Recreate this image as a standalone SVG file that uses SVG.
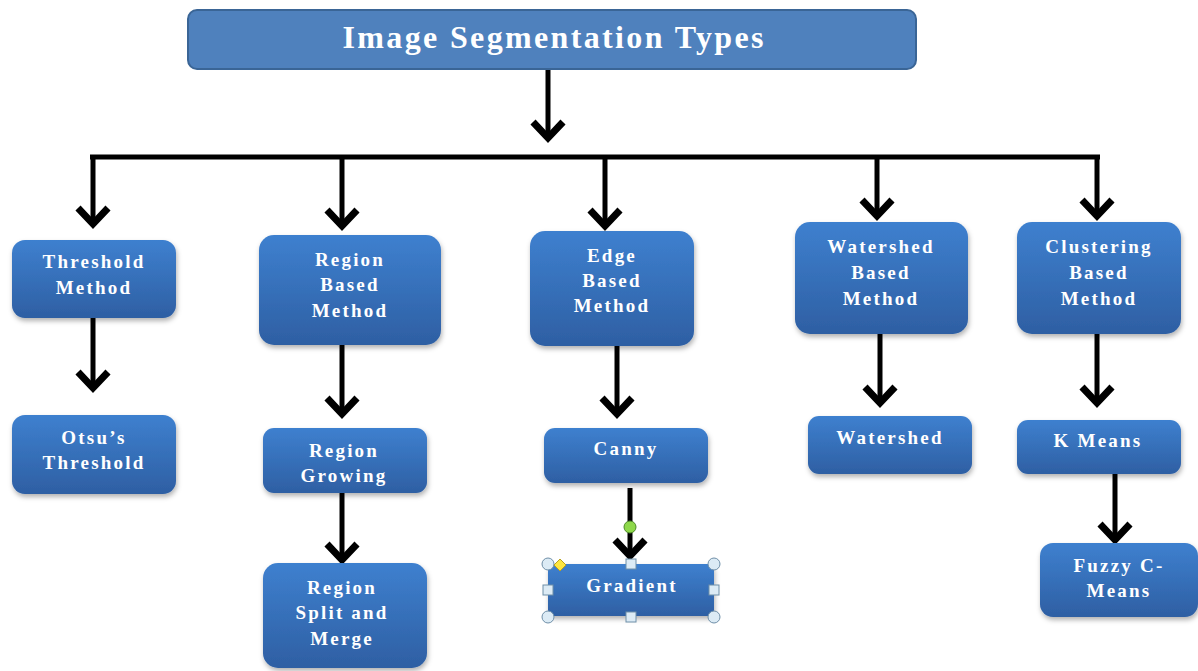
<svg xmlns="http://www.w3.org/2000/svg" width="1198" height="671" viewBox="0 0 1198 671">
<defs>
<linearGradient id="g" x1="0" y1="0" x2="0" y2="1">
<stop offset="0" stop-color="#3E80CF"/>
<stop offset="1" stop-color="#2E5FA3"/>
</linearGradient>
<filter id="sh" x="-10%" y="-10%" width="125%" height="130%">
<feDropShadow dx="1" dy="3" stdDeviation="2.5" flood-color="#000" flood-opacity="0.3"/>
</filter>
<marker id="ah" markerUnits="userSpaceOnUse" markerWidth="40" markerHeight="40" refX="0" refY="0" orient="auto" overflow="visible">
<path d="M-16,-15 L0,0 L-16,15" fill="none" stroke="#000" stroke-width="7"/>
</marker>
<style>
.box{fill:url(#g);filter:url(#sh);}
.t{font-family:"Liberation Serif","Times New Roman",serif;font-weight:bold;font-size:19px;fill:#fff;text-anchor:middle;letter-spacing:2.2px;}
.c{fill:none;stroke:#000;stroke-width:5;}
.a{fill:none;stroke:#000;stroke-width:5;marker-end:url(#ah);}
.hd{fill:#DCEBF5;stroke:#6F8FA8;stroke-width:1;}
</style>
</defs>

<g id="connectors">
<line class="a" x1="548" y1="69" x2="548" y2="138"/>
<line class="c" x1="90" y1="157" x2="1100" y2="157"/>
<line class="a" x1="93" y1="157" x2="93" y2="224"/>
<line class="a" x1="342" y1="157" x2="342" y2="226"/>
<line class="a" x1="605" y1="157" x2="605" y2="226"/>
<line class="a" x1="877" y1="157" x2="877" y2="216"/>
<line class="a" x1="1097" y1="157" x2="1097" y2="216"/>
<line class="a" x1="93" y1="318" x2="93" y2="388"/>
<line class="a" x1="342" y1="345" x2="342" y2="414"/>
<line class="a" x1="617" y1="346" x2="617" y2="414"/>
<line class="a" x1="880" y1="334" x2="880" y2="403"/>
<line class="a" x1="1097" y1="334" x2="1097" y2="403"/>
<line class="a" x1="342" y1="493" x2="342" y2="560"/>
<line class="a" x1="630" y1="488" x2="630" y2="556"/>
<line class="a" x1="1115" y1="474" x2="1115" y2="540"/>
</g>

<g id="title">
<rect x="188" y="10" width="728" height="59" rx="9" fill="#4F81BD" stroke="#3A6596" stroke-width="2"/>
<text x="553" y="48" font-family="Liberation Serif,Times New Roman,serif" font-weight="bold" font-size="32" fill="#fff" text-anchor="middle" textLength="421" lengthAdjust="spacing">Image Segmentation Types</text>
</g>

<g id="threshold">
<rect class="box" x="12" y="240" width="164" height="78" rx="13"/>
<text class="t" x="94" y="268">Threshold</text>
<text class="t" x="94" y="294">Method</text>
</g>
<g id="region">
<rect class="box" x="259" y="235" width="182" height="110" rx="15"/>
<text class="t" x="350" y="266">Region</text>
<text class="t" x="350" y="291">Based</text>
<text class="t" x="350" y="317">Method</text>
</g>
<g id="edge">
<rect class="box" x="530" y="231" width="164" height="115" rx="15"/>
<text class="t" x="612" y="262">Edge</text>
<text class="t" x="612" y="287">Based</text>
<text class="t" x="612" y="312">Method</text>
</g>
<g id="watershedBased">
<rect class="box" x="795" y="222" width="173" height="112" rx="15"/>
<text class="t" x="881" y="253">Watershed</text>
<text class="t" x="881" y="279">Based</text>
<text class="t" x="881" y="305">Method</text>
</g>
<g id="clustering">
<rect class="box" x="1017" y="222" width="164" height="112" rx="15"/>
<text class="t" x="1099" y="253">Clustering</text>
<text class="t" x="1099" y="279">Based</text>
<text class="t" x="1099" y="305">Method</text>
</g>

<g id="otsu">
<rect class="box" x="12" y="415" width="164" height="79" rx="13"/>
<text class="t" x="94" y="444">Otsu’s</text>
<text class="t" x="94" y="469">Threshold</text>
</g>
<g id="growing">
<rect class="box" x="263" y="428" width="164" height="65" rx="11"/>
<text class="t" x="344" y="457">Region</text>
<text class="t" x="344" y="482">Growing</text>
</g>
<g id="canny">
<rect class="box" x="544" y="428" width="164" height="55" rx="11"/>
<text class="t" x="626" y="455">Canny</text>
</g>
<g id="watershed">
<rect class="box" x="808" y="416" width="164" height="58" rx="11"/>
<text class="t" x="890" y="444">Watershed</text>
</g>
<g id="kmeans">
<rect class="box" x="1017" y="420" width="164" height="54" rx="11"/>
<text class="t" x="1098" y="447">K Means</text>
</g>

<g id="split">
<rect class="box" x="263" y="563" width="164" height="105" rx="15"/>
<text class="t" x="342" y="594">Region</text>
<text class="t" x="342" y="619">Split and</text>
<text class="t" x="342" y="645">Merge</text>
</g>
<g id="gradient">
<rect class="box" x="548" y="564" width="166" height="52" rx="6"/>
<text class="t" x="632" y="592">Gradient</text>
</g>
<g id="fuzzy">
<rect class="box" x="1040" y="543" width="158" height="74" rx="13"/>
<text class="t" x="1119" y="572">Fuzzy C-</text>
<text class="t" x="1119" y="597">Means</text>
</g>

<g id="selection">
<circle cx="630" cy="527" r="6" fill="#8ED84A" stroke="#4E8A2A" stroke-width="1"/>
<circle class="hd" cx="548" cy="564" r="6"/>
<circle class="hd" cx="714" cy="564" r="6"/>
<circle class="hd" cx="548" cy="617" r="6"/>
<circle class="hd" cx="714" cy="617" r="6"/>
<rect class="hd" x="626" y="559" width="10" height="10"/>
<rect class="hd" x="626" y="612" width="10" height="10"/>
<rect class="hd" x="543" y="585" width="10" height="10"/>
<rect class="hd" x="709" y="585" width="10" height="10"/>
<path d="M560,559 L566,565 L560,571 L554,565 Z" fill="#FFE640" stroke="#B8A020" stroke-width="1"/>
</g>
</svg>
